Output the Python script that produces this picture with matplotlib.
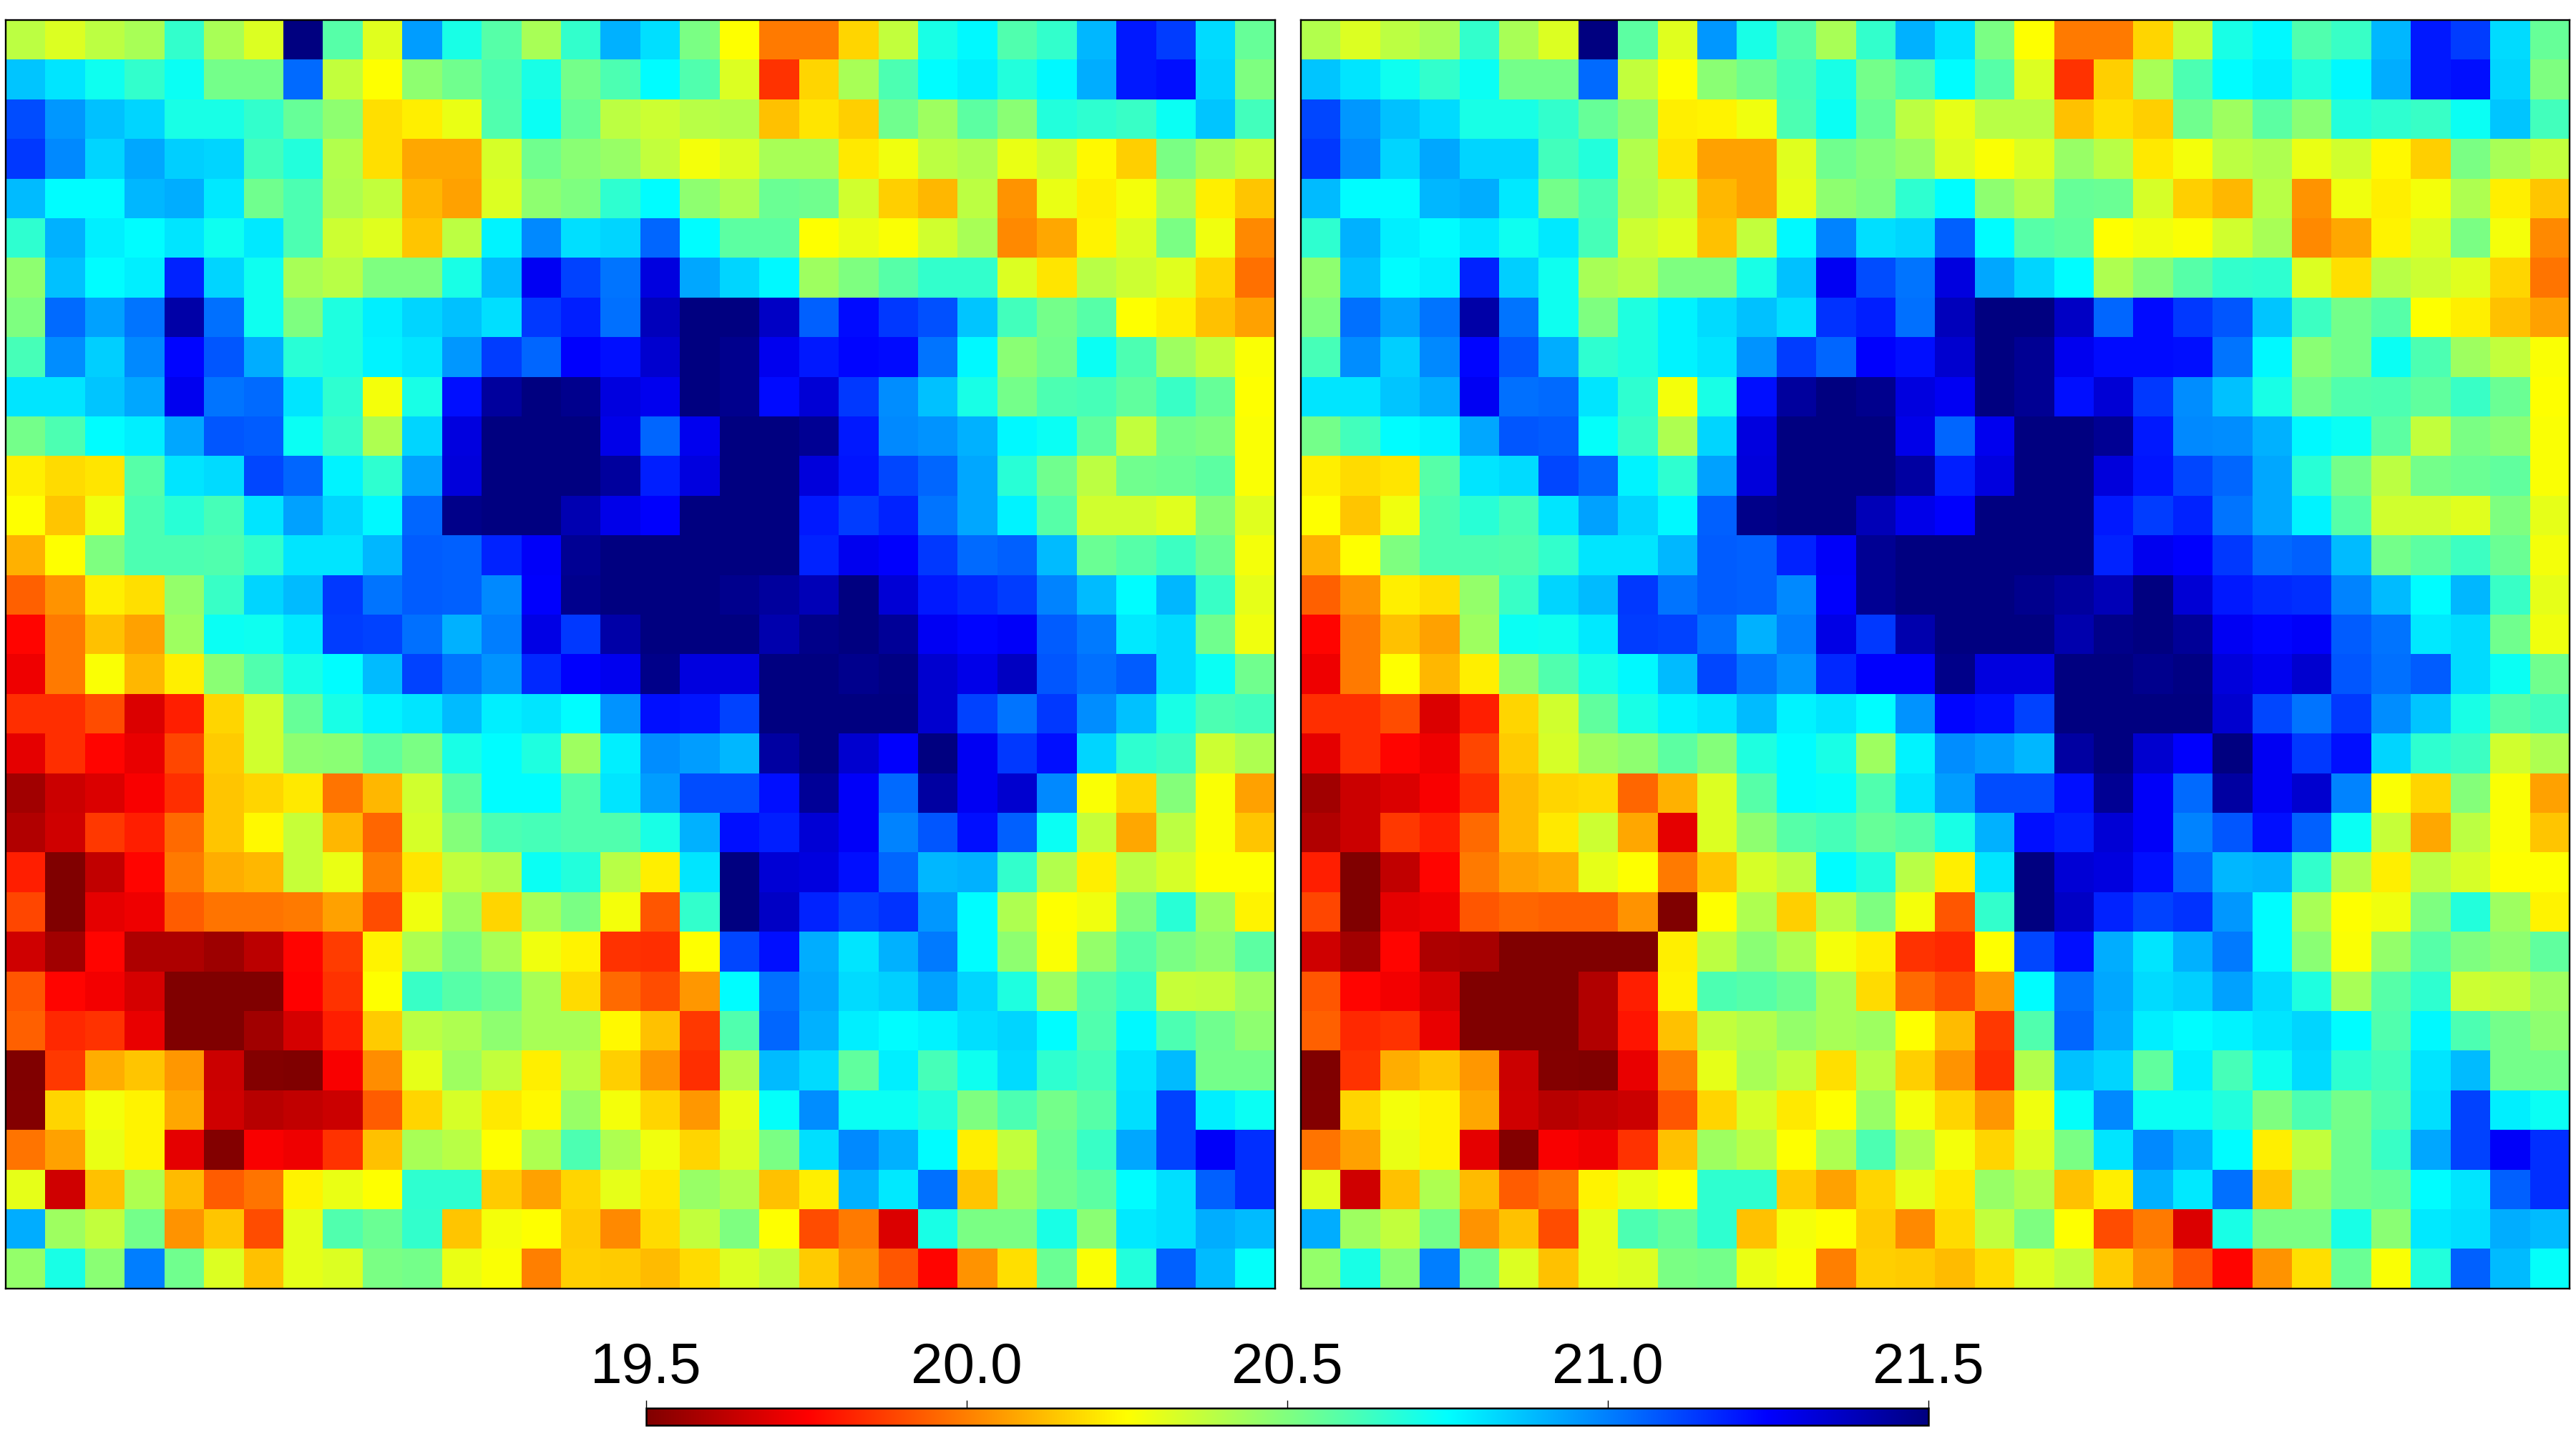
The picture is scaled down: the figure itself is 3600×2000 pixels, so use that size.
"""Two noise maps side by side with one shared colour bar."""
import matplotlib

matplotlib.use("Agg")
import matplotlib.pyplot as plt
import numpy as np
from matplotlib.colors import LinearSegmentedColormap

# cell values in hundredths (row 0 is the top row)
LEFT_CELLS = [
    [2038,2032,2038,2042,2065,2042,2032,2150,2058,2031,2094,2070,2058,2042,2065,2090,2081,2051,2025,1999,1999,2017,2037,2070,2076,2059,2065,2089,2120,2113,2082,2055],
    [2086,2080,2072,2065,2073,2052,2052,2104,2037,2025,2047,2053,2060,2070,2052,2060,2075,2059,2032,1985,2017,2042,2060,2075,2078,2068,2076,2091,2120,2122,2083,2050],
    [2110,2095,2087,2083,2070,2070,2065,2055,2047,2019,2022,2029,2059,2073,2055,2038,2035,2039,2040,2013,2020,2016,2053,2044,2057,2048,2068,2066,2064,2073,2086,2062],
    [2114,2098,2083,2092,2084,2083,2062,2068,2040,2019,2008,2008,2033,2053,2048,2045,2037,2027,2032,2042,2042,2021,2028,2038,2041,2029,2034,2024,2016,2051,2042,2037],
    [2088,2075,2075,2089,2091,2079,2053,2060,2041,2037,2011,2007,2032,2047,2050,2066,2075,2047,2041,2054,2053,2034,2016,2011,2038,2004,2029,2022,2027,2041,2022,2014],
    [2066,2090,2078,2075,2080,2072,2079,2060,2035,2031,2014,2038,2077,2098,2081,2083,2105,2075,2057,2057,2025,2029,2026,2034,2042,2002,2008,2023,2032,2051,2028,2002],
    [2047,2087,2075,2078,2118,2083,2072,2042,2039,2050,2050,2070,2088,2127,2112,2102,2131,2092,2083,2076,2044,2050,2058,2065,2065,2032,2020,2039,2035,2031,2017,1997],
    [2050,2104,2093,2102,2142,2103,2072,2050,2069,2078,2083,2087,2081,2114,2119,2103,2138,2150,2150,2136,2106,2123,2114,2109,2086,2062,2052,2058,2025,2022,2013,2007],
    [2061,2097,2084,2098,2124,2108,2091,2067,2069,2077,2080,2095,2113,2105,2125,2122,2134,2150,2147,2128,2120,2124,2123,2102,2076,2048,2053,2073,2060,2044,2037,2026],
    [2080,2080,2086,2092,2128,2102,2104,2080,2066,2027,2070,2122,2144,2150,2147,2131,2128,2150,2147,2123,2133,2114,2097,2087,2070,2052,2060,2061,2056,2064,2055,2025],
    [2052,2060,2075,2078,2092,2108,2107,2073,2064,2041,2083,2131,2150,2150,2150,2129,2105,2128,2150,2150,2146,2120,2098,2096,2090,2076,2073,2056,2037,2052,2050,2026],
    [2022,2018,2020,2058,2080,2082,2111,2105,2077,2066,2093,2132,2150,2150,2150,2144,2119,2131,2150,2150,2132,2121,2111,2105,2092,2067,2053,2038,2053,2054,2057,2026],
    [2025,2014,2028,2060,2067,2061,2080,2093,2083,2076,2105,2148,2150,2150,2140,2129,2125,2150,2150,2150,2120,2113,2118,2102,2092,2077,2058,2034,2034,2031,2049,2031],
    [2010,2025,2050,2060,2060,2059,2065,2080,2080,2089,2107,2106,2118,2126,2146,2150,2150,2150,2150,2150,2118,2128,2125,2114,2104,2106,2088,2054,2058,2063,2054,2027],
    [1994,2004,2022,2019,2046,2064,2083,2088,2114,2102,2107,2106,2098,2125,2147,2150,2150,2150,2147,2144,2139,2150,2133,2120,2117,2113,2099,2088,2075,2089,2064,2030],
    [1976,1999,2013,2007,2044,2073,2072,2079,2113,2112,2103,2090,2100,2130,2114,2142,2150,2150,2150,2141,2148,2150,2145,2127,2124,2126,2107,2101,2079,2082,2053,2028],
    [1972,1999,2026,2011,2022,2048,2059,2070,2075,2088,2112,2102,2096,2117,2125,2128,2148,2131,2131,2150,2150,2147,2149,2134,2129,2137,2108,2103,2107,2082,2073,2053],
    [1984,1984,1990,1968,1981,2017,2034,2055,2070,2077,2080,2088,2078,2080,2075,2096,2122,2121,2112,2150,2150,2150,2150,2134,2112,2102,2114,2097,2087,2070,2060,2062],
    [1970,1984,1976,1971,1989,2015,2034,2047,2048,2056,2051,2070,2075,2069,2044,2078,2097,2094,2089,2143,2150,2134,2125,2150,2127,2114,2122,2083,2066,2063,2035,2041],
    [1957,1965,1968,1974,1984,2014,2017,2021,1998,2011,2034,2057,2075,2075,2059,2080,2094,2110,2110,2122,2145,2126,2104,2143,2127,2134,2098,2026,2017,2049,2026,2007],
    [1960,1966,1986,1981,1996,2014,2024,2036,2011,1995,2033,2049,2060,2061,2059,2059,2070,2090,2122,2119,2133,2126,2099,2108,2122,2106,2073,2036,2008,2038,2026,2014],
    [1981,1950,1963,1976,1999,2009,2011,2036,2029,2000,2020,2037,2040,2073,2068,2039,2022,2080,2150,2133,2131,2122,2105,2089,2090,2065,2040,2022,2038,2033,2025,2025],
    [1989,1950,1970,1972,1993,1998,1998,1999,2007,1990,2028,2044,2017,2042,2051,2027,1992,2065,2150,2136,2118,2112,2115,2095,2075,2041,2025,2028,2050,2067,2044,2023],
    [1966,1957,1976,1959,1959,1956,1962,1976,1987,2023,2041,2051,2042,2028,2023,1985,1984,2025,2111,2122,2091,2080,2090,2101,2075,2047,2026,2046,2058,2051,2047,2057],
    [1992,1976,1973,1967,1950,1950,1950,1975,1985,2025,2064,2058,2054,2042,2018,1996,1990,2005,2075,2103,2092,2082,2084,2093,2083,2069,2044,2058,2064,2036,2037,2044],
    [1994,1983,1985,1971,1950,1950,1957,1967,1981,2015,2038,2041,2047,2042,2042,2024,2013,1986,2059,2105,2090,2078,2075,2077,2081,2083,2075,2059,2076,2060,2053,2047],
    [1950,1986,2009,2014,2005,1965,1951,1950,1974,2003,2030,2044,2037,2022,2038,2016,2004,1984,2040,2088,2082,2056,2078,2061,2072,2082,2066,2062,2080,2088,2052,2052],
    [1951,2017,2027,2023,2008,1966,1961,1963,1965,1993,2017,2033,2021,2024,2045,2027,2017,2005,2029,2074,2097,2073,2073,2068,2050,2060,2052,2058,2081,2112,2078,2073],
    [1998,2007,2029,2023,1970,1951,1974,1972,1985,2013,2042,2039,2025,2041,2060,2041,2028,2017,2032,2051,2081,2098,2090,2075,2022,2037,2054,2064,2092,2112,2126,2116],
    [2030,1966,2013,2041,2012,1993,1998,2023,2029,2025,2066,2066,2015,2007,2017,2030,2021,2045,2040,2013,2022,2090,2079,2103,2014,2044,2053,2057,2075,2081,2106,2116],
    [2091,2044,2037,2052,2004,2014,1990,2030,2059,2054,2065,2014,2027,2025,2015,2002,2018,2037,2050,2025,1990,1999,1968,2070,2051,2051,2070,2048,2079,2081,2091,2088],
    [2046,2070,2048,2100,2053,2032,2013,2030,2032,2051,2052,2029,2026,2000,2016,2015,2012,2018,2032,2037,2015,2004,1992,1976,2004,2019,2054,2026,2068,2106,2088,2074],
]

RIGHT_CELLS = [
    [2040,2032,2038,2042,2065,2042,2032,2150,2057,2031,2095,2070,2058,2042,2065,2090,2080,2051,2025,1999,1999,2017,2037,2070,2076,2059,2064,2089,2120,2113,2082,2055],
    [2086,2080,2072,2065,2073,2052,2052,2104,2037,2025,2048,2053,2061,2070,2052,2060,2075,2058,2032,1985,2016,2042,2060,2075,2078,2068,2076,2091,2120,2122,2083,2050],
    [2111,2095,2087,2082,2070,2070,2065,2055,2047,2022,2023,2028,2060,2073,2055,2038,2030,2039,2039,2013,2019,2016,2053,2044,2057,2048,2068,2066,2064,2073,2086,2062],
    [2114,2098,2083,2092,2083,2083,2062,2068,2040,2020,2007,2007,2031,2053,2049,2045,2032,2026,2032,2045,2039,2021,2027,2038,2041,2029,2034,2024,2016,2051,2042,2037],
    [2088,2075,2075,2089,2091,2079,2052,2060,2041,2035,2011,2007,2030,2047,2050,2066,2075,2047,2040,2055,2054,2033,2016,2011,2039,2004,2028,2022,2027,2041,2022,2014],
    [2066,2090,2078,2075,2079,2072,2079,2061,2035,2031,2013,2037,2076,2099,2081,2083,2106,2075,2058,2056,2025,2028,2026,2034,2042,2002,2008,2023,2032,2051,2027,2002],
    [2047,2087,2075,2078,2118,2084,2072,2042,2039,2050,2050,2070,2087,2127,2110,2102,2131,2092,2083,2075,2041,2049,2058,2065,2066,2032,2019,2039,2035,2031,2017,1998],
    [2050,2103,2093,2102,2142,2102,2072,2050,2069,2077,2082,2087,2081,2115,2119,2103,2138,2150,2150,2136,2105,2123,2114,2108,2086,2063,2052,2058,2025,2022,2013,2007],
    [2061,2097,2084,2098,2124,2108,2091,2066,2069,2077,2080,2096,2113,2105,2125,2122,2134,2150,2146,2128,2123,2123,2122,2102,2076,2048,2052,2073,2060,2044,2037,2026],
    [2080,2080,2086,2091,2127,2103,2104,2080,2066,2027,2070,2122,2144,2150,2147,2131,2127,2150,2146,2122,2133,2114,2097,2087,2070,2053,2059,2060,2056,2064,2054,2025],
    [2052,2062,2075,2077,2092,2108,2107,2074,2064,2041,2083,2131,2150,2150,2150,2129,2105,2128,2150,2150,2146,2120,2098,2097,2090,2076,2073,2057,2037,2051,2048,2026],
    [2022,2018,2020,2058,2080,2082,2111,2105,2077,2066,2093,2132,2150,2150,2150,2143,2119,2131,2150,2150,2132,2121,2111,2105,2092,2067,2052,2038,2052,2054,2056,2026],
    [2025,2014,2028,2060,2067,2061,2080,2093,2083,2076,2106,2148,2150,2150,2139,2129,2125,2150,2150,2150,2120,2113,2118,2102,2092,2077,2058,2034,2034,2031,2050,2030],
    [2010,2025,2050,2060,2060,2059,2065,2080,2080,2089,2107,2106,2118,2126,2146,2150,2150,2150,2150,2150,2118,2128,2125,2114,2104,2106,2088,2052,2057,2063,2054,2027],
    [1994,2004,2022,2019,2046,2064,2083,2088,2114,2102,2107,2106,2098,2125,2146,2150,2150,2150,2147,2144,2139,2150,2133,2120,2117,2116,2099,2088,2075,2089,2064,2030],
    [1976,1999,2013,2007,2044,2073,2072,2079,2113,2112,2103,2090,2100,2130,2114,2141,2150,2150,2150,2141,2148,2150,2145,2127,2124,2126,2107,2102,2079,2082,2053,2028],
    [1972,1999,2025,2011,2022,2047,2059,2070,2076,2088,2111,2102,2096,2117,2125,2125,2148,2131,2131,2150,2150,2147,2149,2132,2128,2134,2108,2103,2107,2082,2073,2053],
    [1984,1984,1990,1968,1981,2017,2034,2056,2070,2077,2080,2088,2077,2080,2075,2096,2124,2122,2112,2150,2150,2150,2150,2134,2111,2102,2114,2097,2086,2070,2058,2062],
    [1970,1984,1976,1972,1989,2015,2033,2044,2047,2057,2049,2069,2075,2070,2044,2077,2097,2094,2089,2143,2150,2134,2125,2150,2127,2114,2122,2083,2066,2063,2034,2041],
    [1957,1965,1968,1974,1984,2012,2017,2018,1995,2010,2032,2058,2075,2074,2059,2080,2094,2110,2110,2122,2146,2126,2104,2143,2127,2134,2099,2026,2017,2049,2026,2007],
    [1960,1965,1986,1981,1996,2012,2021,2035,2008,1970,2032,2047,2058,2061,2055,2058,2070,2090,2122,2119,2133,2126,2099,2108,2122,2106,2073,2036,2008,2038,2026,2014],
    [1981,1950,1963,1976,1999,2007,2009,2030,2025,1999,2014,2033,2038,2075,2068,2039,2022,2080,2150,2133,2131,2122,2105,2089,2090,2065,2040,2022,2038,2033,2025,2025],
    [1989,1950,1970,1972,1992,1995,1994,1994,2004,1950,2025,2041,2016,2039,2050,2027,1992,2065,2150,2136,2118,2112,2115,2095,2075,2042,2025,2028,2050,2068,2044,2023],
    [1966,1957,1976,1959,1958,1950,1950,1950,1950,2022,2038,2048,2041,2027,2022,1985,1983,2025,2111,2122,2091,2080,2090,2101,2075,2048,2026,2046,2058,2050,2047,2056],
    [1992,1976,1973,1967,1950,1950,1950,1960,1981,2023,2060,2058,2054,2042,2018,1996,1990,2005,2075,2103,2092,2082,2084,2093,2082,2069,2042,2058,2066,2035,2037,2044],
    [1994,1983,1985,1971,1950,1950,1950,1960,1979,2013,2037,2040,2046,2042,2044,2025,2012,1986,2059,2105,2091,2078,2075,2077,2080,2083,2075,2059,2076,2060,2052,2047],
    [1950,1985,2009,2014,2005,1965,1951,1950,1971,2000,2030,2042,2037,2019,2039,2016,2004,1984,2040,2087,2083,2056,2078,2061,2072,2082,2066,2062,2080,2088,2052,2052],
    [1951,2017,2027,2023,2008,1966,1961,1963,1965,1992,2017,2033,2021,2025,2045,2027,2017,2005,2028,2074,2098,2073,2073,2068,2050,2060,2052,2059,2081,2112,2078,2073],
    [1998,2007,2029,2023,1970,1951,1974,1972,1985,2013,2044,2039,2025,2041,2060,2041,2027,2017,2032,2051,2080,2098,2090,2075,2022,2037,2053,2064,2092,2112,2126,2116],
    [2031,1966,2013,2041,2012,1993,1998,2023,2029,2025,2066,2066,2015,2007,2017,2030,2021,2045,2040,2013,2022,2090,2079,2103,2014,2045,2053,2055,2075,2080,2106,2116],
    [2091,2044,2037,2052,2004,2013,1990,2030,2060,2055,2066,2013,2027,2025,2015,2002,2018,2037,2050,2025,1990,1999,1968,2070,2051,2051,2070,2048,2079,2081,2091,2088],
    [2046,2070,2048,2100,2053,2032,2013,2030,2032,2051,2052,2029,2026,2000,2016,2015,2012,2018,2032,2037,2015,2004,1992,1976,2004,2019,2054,2026,2068,2106,2088,2074],
]

CBAR_TICKS = [19.5, 20.0, 20.5, 21.0, 21.5]
CBAR_LABELS = ["19.5", "20.0", "20.5", "21.0", "21.5"]

VMIN, VMAX = 19.5, 21.5
W, H = 3600, 2000

plt.rcParams["font.family"] = ["Liberation Sans", "DejaVu Sans"]

# the classic jet, turned round: its stops sit at exact eighths
classic_jet_r = LinearSegmentedColormap.from_list(
    "classic_jet_r",
    [
        (0.0, "#800000"),
        (0.125, "#ff0000"),
        (0.375, "#ffff00"),
        (0.625, "#00ffff"),
        (0.875, "#0000ff"),
        (1.0, "#000080"),
    ],
    N=512,
)

fig = plt.figure(figsize=(W / 100, H / 100), dpi=100)


def px_axes(x0, y0, x1, y1):
    # pixel box measured from the top left of the picture
    return fig.add_axes([x0 / W, 1 - y1 / H, (x1 - x0) / W, (y1 - y0) / H])


ax_left = px_axes(8, 28, 1782, 1801)
ax_right = px_axes(1818, 28, 3591, 1801)

im = None
for ax, cells in ((ax_left, LEFT_CELLS), (ax_right, RIGHT_CELLS)):
    values = np.array(cells) / 100.0
    im = ax.imshow(values, cmap=classic_jet_r, vmin=VMIN, vmax=VMAX,
                   interpolation="nearest", aspect="auto")
    ax.set_xticks([])
    ax.set_yticks([])
    for spine in ax.spines.values():
        spine.set_linewidth(1.7)

cax = px_axes(903, 1968, 2695, 1992)
cbar = fig.colorbar(im, cax=cax, orientation="horizontal")
cbar.set_ticks(CBAR_TICKS)
cbar.set_ticklabels(CBAR_LABELS)
cbar.outline.set_linewidth(1.8)
cax.xaxis.set_ticks_position("top")
cax.tick_params(axis="x", length=8, width=1, pad=5, labelsize=57.6)

fig.savefig("out.png", dpi=100)
plt.close(fig)
